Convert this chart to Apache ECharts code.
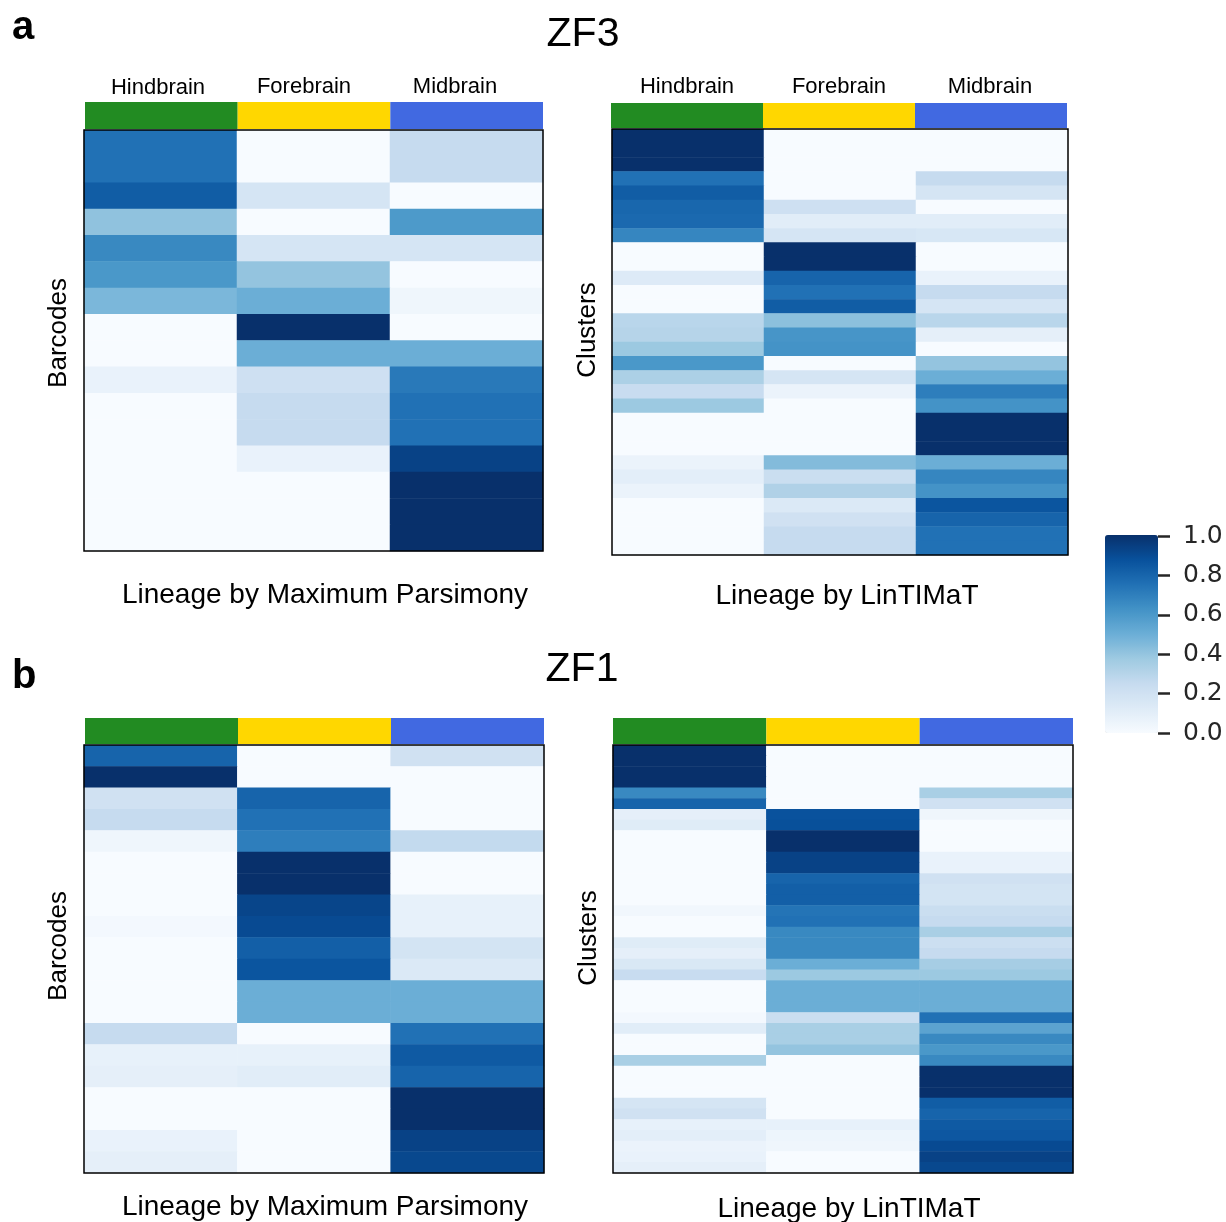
<!DOCTYPE html>
<html>
<head>
<meta charset="utf-8">
<script src="https://cdn.jsdelivr.net/npm/echarts@6/dist/echarts.min.js"></script>
<style>
html,body{margin:0;padding:0;background:#fff;}
#chart{width:1226px;height:1222px;}
</style>
</head>
<body>
<div id="chart"></div>
<script>
// ---------- data ----------
const brainRegions = ['Hindbrain', 'Forebrain', 'Midbrain'];
const regionColors = ['#228b22', '#ffd700', '#4169e1'];
const bluesScale = ['#f7fbff', '#deebf7', '#c6dbef', '#9ecae1', '#6baed6', '#4292c6', '#2171b5', '#08519c', '#08306b'];

// rows: [Hindbrain, Forebrain, Midbrain]
const zf3Parsimony = [
  [0.75, 0.00, 0.25], [0.75, 0.00, 0.25], [0.83, 0.17, 0.00], [0.41, 0.00, 0.59],
  [0.66, 0.17, 0.17], [0.60, 0.40, 0.00], [0.46, 0.50, 0.04], [0.00, 1.00, 0.00],
  [0.00, 0.50, 0.50], [0.07, 0.21, 0.72], [0.00, 0.25, 0.75], [0.00, 0.25, 0.75],
  [0.00, 0.07, 0.93], [0.00, 0.00, 1.00], [0.00, 0.00, 1.00], [0.00, 0.00, 1.00]
];
const zf3LinTIMaT = [
  [1.00, 0.00, 0.00], [1.00, 0.00, 0.00], [1.00, 0.00, 0.00], [0.75, 0.00, 0.25],
  [0.83, 0.00, 0.17], [0.79, 0.21, 0.00], [0.78, 0.11, 0.11], [0.67, 0.17, 0.16],
  [0.00, 1.00, 0.00], [0.00, 1.00, 0.00], [0.13, 0.80, 0.07], [0.00, 0.75, 0.25],
  [0.00, 0.83, 0.17], [0.29, 0.42, 0.29], [0.30, 0.61, 0.09], [0.38, 0.62, 0.00],
  [0.60, 0.00, 0.40], [0.33, 0.17, 0.50], [0.24, 0.06, 0.70], [0.38, 0.00, 0.62],
  [0.00, 0.00, 1.00], [0.00, 0.00, 1.00], [0.00, 0.00, 1.00], [0.06, 0.44, 0.50],
  [0.10, 0.23, 0.67], [0.06, 0.32, 0.62], [0.00, 0.14, 0.86], [0.00, 0.20, 0.80],
  [0.00, 0.25, 0.75], [0.00, 0.25, 0.75]
];
const zf1Parsimony = [
  [0.80, 0.00, 0.20], [1.00, 0.00, 0.00], [0.20, 0.80, 0.00], [0.25, 0.75, 0.00],
  [0.04, 0.70, 0.26], [0.00, 1.00, 0.00], [0.00, 1.00, 0.00], [0.00, 0.92, 0.08],
  [0.02, 0.90, 0.08], [0.00, 0.82, 0.18], [0.00, 0.86, 0.14], [0.00, 0.50, 0.50],
  [0.00, 0.50, 0.50], [0.25, 0.00, 0.75], [0.08, 0.08, 0.84], [0.09, 0.11, 0.80],
  [0.00, 0.00, 1.00], [0.00, 0.00, 1.00], [0.07, 0.00, 0.93], [0.09, 0.00, 0.91]
];
const zf1LinTIMaT = [
  [1.00, 0.00, 0.00], [1.00, 0.00, 0.00], [1.00, 0.00, 0.00], [1.00, 0.00, 0.00],
  [0.66, 0.00, 0.34], [0.80, 0.00, 0.20], [0.09, 0.87, 0.04], [0.12, 0.88, 0.00],
  [0.00, 1.00, 0.00], [0.00, 1.00, 0.00], [0.00, 0.93, 0.07], [0.00, 0.93, 0.07],
  [0.00, 0.80, 0.20], [0.00, 0.82, 0.18], [0.00, 0.82, 0.18], [0.03, 0.74, 0.23],
  [0.00, 0.75, 0.25], [0.00, 0.66, 0.34], [0.12, 0.66, 0.22], [0.09, 0.66, 0.25],
  [0.15, 0.50, 0.35], [0.24, 0.38, 0.38], [0.00, 0.50, 0.50], [0.00, 0.50, 0.50],
  [0.00, 0.50, 0.50], [0.02, 0.23, 0.75], [0.11, 0.34, 0.55], [0.00, 0.34, 0.66],
  [0.00, 0.40, 0.60], [0.34, 0.00, 0.66], [0.00, 0.00, 1.00], [0.00, 0.00, 1.00],
  [0.00, 0.00, 1.00], [0.17, 0.00, 0.83], [0.20, 0.00, 0.80], [0.08, 0.08, 0.84],
  [0.10, 0.05, 0.85], [0.06, 0.04, 0.90], [0.07, 0.00, 0.93], [0.09, 0.00, 0.91]
];
const colorbarMin = 0;
const colorbarMax = 1;
const colorbarStep = 0.2;

// ---------- layout ----------
const heatGrids = [
  {left: 84, top: 130, width: 459, height: 421},
  {left: 612, top: 129, width: 456, height: 426},
  {left: 84, top: 745, width: 460, height: 428},
  {left: 613, top: 745, width: 460, height: 428}
];
const stripGrids = [
  {left: 85, top: 102, width: 458, height: 27},
  {left: 611, top: 103, width: 456, height: 25},
  {left: 85, top: 718, width: 459, height: 26},
  {left: 613, top: 718, width: 460, height: 26}
];
const matrices = [zf3Parsimony, zf3LinTIMaT, zf1Parsimony, zf1LinTIMaT];

const grids = [];
const xAxes = [];
const yAxes = [];
const series = [];

heatGrids.forEach((g, i) => {
  grids.push(Object.assign({
    show: true, z: 5, backgroundColor: 'rgba(0,0,0,0)',
    borderColor: '#000', borderWidth: 1.5, containLabel: false
  }, g));
  xAxes.push({type: 'category', gridIndex: i, data: brainRegions, show: false});
  yAxes.push({type: 'category', gridIndex: i, inverse: true,
    data: matrices[i].map((_, r) => String(r)), show: false});
  const data = [];
  matrices[i].forEach((row, r) => row.forEach((v, c) => data.push([c, r, v])));
  series.push({
    type: 'heatmap', xAxisIndex: i, yAxisIndex: i, data: data,
    emphasis: {disabled: true}, itemStyle: {borderWidth: 0}
  });
});

stripGrids.forEach((g, j) => {
  const gi = heatGrids.length + j;
  grids.push(Object.assign({show: false, containLabel: false}, g));
  xAxes.push({type: 'category', gridIndex: gi, data: brainRegions, show: false});
  yAxes.push({type: 'value', gridIndex: gi, min: 0, max: 1, show: false});
  series.push({
    type: 'bar', xAxisIndex: gi, yAxisIndex: gi, barCategoryGap: '0%', silent: true,
    data: brainRegions.map((_, k) => ({value: 1, itemStyle: {color: regionColors[k]}}))
  });
});

// colorbar tick axis
const cbGrid = grids.length;
grids.push({left: 1105, top: 536, width: 53, height: 197, show: false, z: 10});
xAxes.push({type: 'value', gridIndex: cbGrid, show: false, min: 0, max: 1});
yAxes.push({
  type: 'value', gridIndex: cbGrid, position: 'right', min: colorbarMin, max: colorbarMax,
  interval: colorbarStep, z: 10,
  axisLine: {show: true, onZero: false, lineStyle: {color: 'rgba(0,0,0,0)', width: 0}},
  splitLine: {show: false},
  axisTick: {show: true, inside: false, length: 12, lineStyle: {color: '#262626', width: 2.5}},
  axisLabel: {margin: 25, fontSize: 25, fontFamily: 'DejaVu Sans', color: '#262626',
    padding: [6, 0, 0, 0], formatter: v => v.toFixed(1)}
});

const F = '"Liberation Sans", Arial, sans-serif';
function txt(text, x, y, size, opts) {
  return Object.assign({
    type: 'text', x: x, y: y, silent: true,
    style: {text: text, fill: '#000', font: size + 'px ' + F,
      align: 'center', verticalAlign: 'middle'}
  }, opts || {});
}
const graphics = [
  txt('a', 12, 28, 40, {style: {text: 'a', fill: '#000', font: 'bold 40px ' + F, align: 'left', verticalAlign: 'middle'}}),
  txt('b', 12, 677, 40, {style: {text: 'b', fill: '#000', font: 'bold 40px ' + F, align: 'left', verticalAlign: 'middle'}}),
  txt('ZF3', 583, 35, 41),
  txt('ZF1', 582, 670, 41),
  txt(brainRegions[0], 158, 88, 22), txt(brainRegions[1], 304, 87, 22), txt(brainRegions[2], 455, 87, 22),
  txt(brainRegions[0], 687, 87, 22), txt(brainRegions[1], 839, 87, 22), txt(brainRegions[2], 990, 87, 22),
  txt('Lineage by Maximum Parsimony', 325, 595, 28),
  txt('Lineage by LinTIMaT', 847, 596, 28),
  txt('Lineage by Maximum Parsimony', 325, 1207, 28),
  txt('Lineage by LinTIMaT', 849, 1209, 28),
  txt('Barcodes', 59, 333, 26, {rotation: Math.PI / 2}),
  txt('Clusters', 588, 330, 26, {rotation: Math.PI / 2}),
  txt('Barcodes', 59, 946, 26, {rotation: Math.PI / 2}),
  txt('Clusters', 589, 938, 26, {rotation: Math.PI / 2})
];

const chart = echarts.init(document.getElementById('chart'), null, {renderer: 'canvas'});
chart.setOption({
  animation: false,
  backgroundColor: '#fff',
  grid: grids,
  xAxis: xAxes,
  yAxis: yAxes,
  visualMap: {
    type: 'continuous', min: colorbarMin, max: colorbarMax, seriesIndex: [0, 1, 2, 3],
    inRange: {color: bluesScale}, calculable: false, hoverLink: false,
    left: 1105, top: 535, itemWidth: 53, itemHeight: 198, padding: 0,
    text: null, showLabel: false, orient: 'vertical'
  },
  series: series,
  graphic: graphics
});
</script>
</body>
</html>
